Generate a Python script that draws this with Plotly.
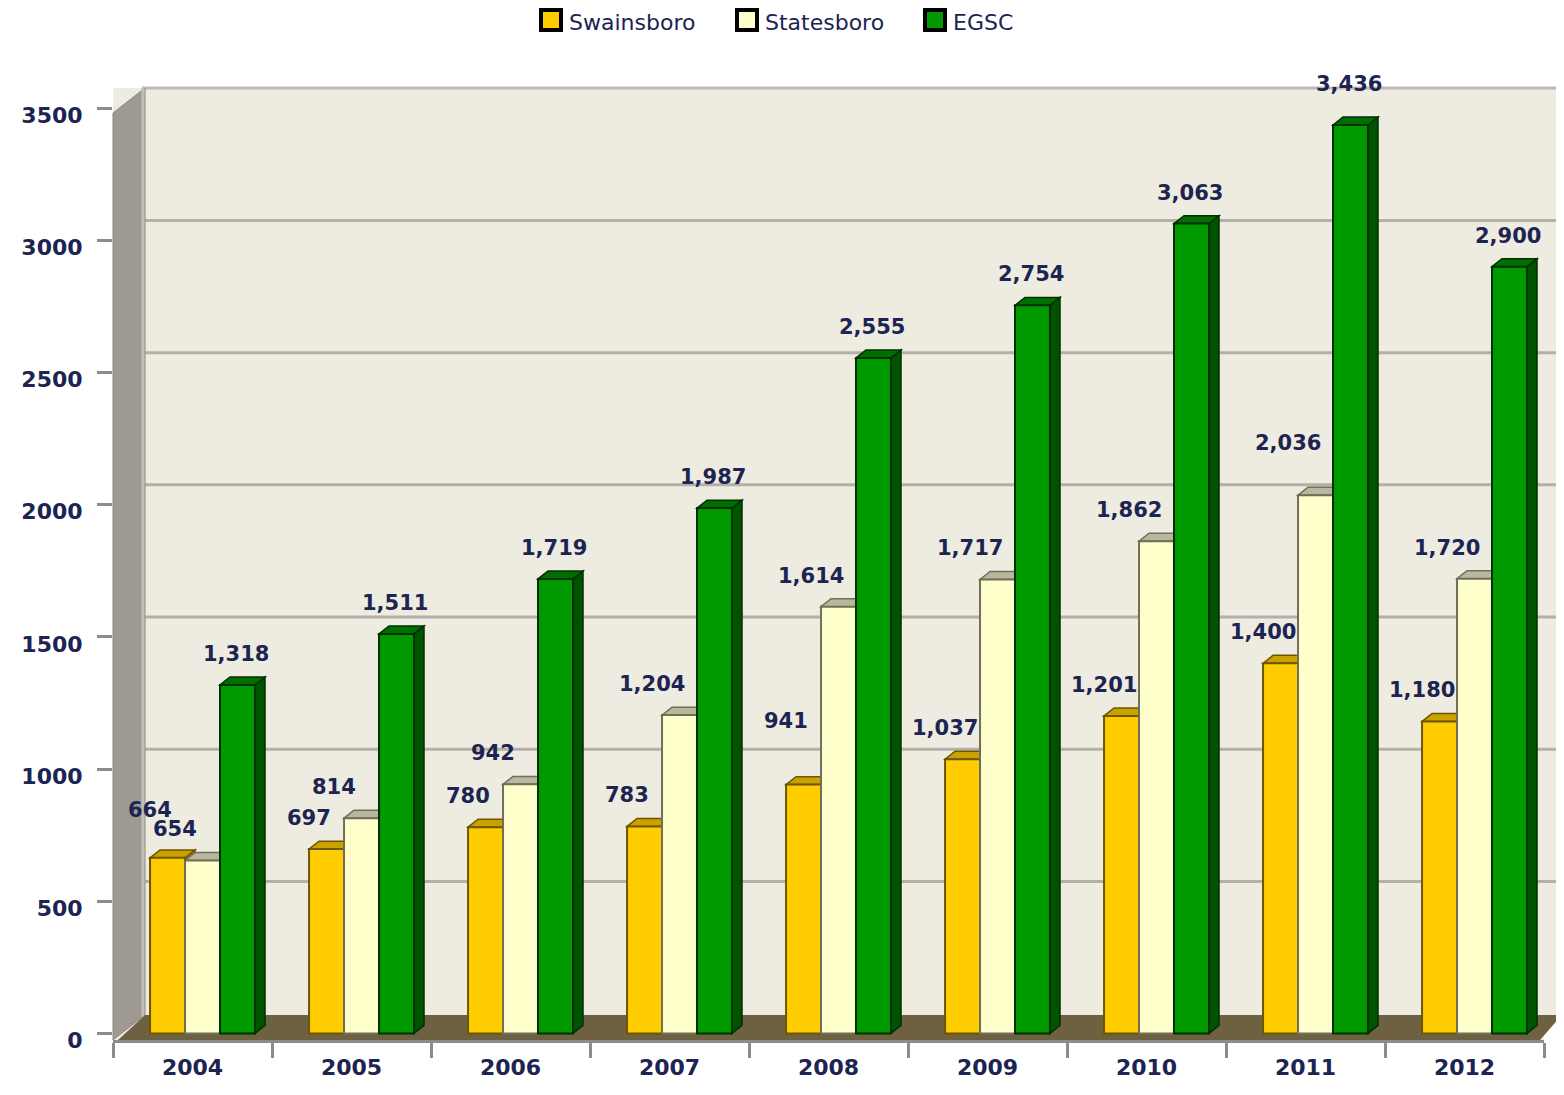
import plotly.graph_objects as go

years = ["2004", "2005", "2006", "2007", "2008", "2009", "2010", "2011", "2012"]
swainsboro = [664, 697, 780, 783, 941, 1037, 1201, 1400, 1180]
statesboro = [654, 814, 942, 1204, 1614, 1717, 1862, 2036, 1720]
egsc = [1318, 1511, 1719, 1987, 2555, 2754, 3063, 3436, 2900]
ytick_vals = [0, 500, 1000, 1500, 2000, 2500, 3000, 3500]
series_names = ["Swainsboro", "Statesboro", "EGSC"]

# ---- styling (not data) ----
PAGE_OFF = 8  # browser body margin
W, H = 1564 - PAGE_OFF, 1095 - PAGE_OFF
ML, MT = 113 - PAGE_OFF, 88 - PAGE_OFF
MR = W - (1544 - PAGE_OFF)
MB = H - (1040 - PAGE_OFF)
PW, PH = W - ML - MR, H - MT - MB
YR = [-25, 3576]
BAR_W = 0.22
BAR_OFF = [-0.267, -0.047, 0.173]
DX, DY = 0.063, 30  # 3D depth in axis units
styles = [
    dict(front="#FFCC00", edge="#6e5600", top="#C9A200", side="#A88600", lab_dx=-0.11),
    dict(front="#FFFFCC", edge="#6f6f5a", top="#B9B89C", side="#D6D5B5", lab_dx=-0.17),
    dict(front="#009900", edge="#003000", top="#006E00", side="#005400", lab_dx=-0.01),
]
# extra vertical nudges of crowded labels (pixels)
label_nudge = {(0, 4): 33, (1, 7): 21, (0, 0): 17, (2, 7): 10}
text_color = "#1c2452"
font_fam = "DejaVu Sans"


def px_x(px):
    return (px - PAGE_OFF - ML) / PW


def px_y(py):
    return (H - MB - (py - PAGE_OFF)) / PH


series_vals = [swainsboro, statesboro, egsc]
fig = go.Figure()
shapes = []
annotations = []

# background extension, top edge, gridlines
shapes.append(dict(type="rect", xref="paper", yref="paper", x0=1, x1=px_x(1564), y0=px_y(1015), y1=1,
                   fillcolor="#EEEBE1", line_width=0, layer="below"))
shapes.append(dict(type="line", xref="paper", yref="paper", x0=px_x(142), x1=px_x(1564), y0=1, y1=1,
                   line=dict(color="#BDBAB3", width=3), layer="below"))
for v in ytick_vals[1:-1]:
    shapes.append(dict(type="line", xref="paper", yref="y", x0=px_x(145), x1=px_x(1564), y0=v + 75, y1=v + 75,
                       line=dict(color="#B3B0A8", width=3), layer="below"))
# left side wall
shapes.append(dict(type="path", xref="paper", yref="paper",
                   path=f"M 0,0 L {px_x(145)},{px_y(1015)} L {px_x(145)},1 L 0,{px_y(113)} Z",
                   fillcolor="#9E9A91", line=dict(color="#8a867e", width=1), layer="below"))
shapes.append(dict(type="line", xref="paper", yref="paper", x0=px_x(143), x1=px_x(143), y0=px_y(1017), y1=1,
                   line=dict(color="#C2BFB8", width=3), layer="below"))
# floor
shapes.append(dict(type="path", xref="paper", yref="paper",
                   path=f"M {px_x(118)},0 L {px_x(1540)},0 L {px_x(1562)},{px_y(1015)} L {px_x(145)},{px_y(1015)} Z",
                   fillcolor="#6E6142", line_width=0, layer="below"))

for k, (name, vals, st) in enumerate(zip(series_names, series_vals, styles)):
    fig.add_trace(go.Bar(
        name=name, x=years, y=vals, width=BAR_W, offset=BAR_OFF[k],
        marker=dict(color=st["front"], line=dict(color=st["edge"], width=2)),
        showlegend=False, hoverinfo="x+y+name",
    ))
    for i, v in enumerate(vals):
        x0 = i + BAR_OFF[k]
        x1 = x0 + BAR_W
        # side face
        shapes.append(dict(type="path", xref="x", yref="y", layer="between",
                           path=f"M {x1},0 L {x1 + DX},{DY} L {x1 + DX},{v + DY} L {x1},{v} Z",
                           fillcolor=st["side"], line=dict(color=st["edge"], width=1.5)))
        # top face
        shapes.append(dict(type="path", xref="x", yref="y", layer="between",
                           path=f"M {x0},{v} L {x0 + DX},{v + DY} L {x1 + DX},{v + DY} L {x1},{v} Z",
                           fillcolor=st["top"], line=dict(color=st["edge"], width=1.5)))
        annotations.append(dict(xref="x", yref="y", x=x0 + BAR_W / 2 + st["lab_dx"], y=v,
                                yshift=31 + label_nudge.get((k, i), 0), text=f"{v:,}", showarrow=False,
                                xanchor="center", yanchor="middle",
                                font=dict(family=font_fam, size=21, color=text_color, weight="bold")))

# custom legend (square swatches with thick black border)
leg_x = [541, 737, 925]
for name, st, lx in zip(series_names, styles, leg_x):
    shapes.append(dict(type="rect", xref="paper", yref="paper",
                       x0=px_x(lx), x1=px_x(lx + 20), y0=px_y(30), y1=px_y(10),
                       fillcolor=st["front"], line=dict(color="black", width=4)))
    annotations.append(dict(xref="paper", yref="paper", x=px_x(lx + 27), y=px_y(22), text=name,
                            showarrow=False, xanchor="left", yanchor="middle", borderpad=0,
                            font=dict(family=font_fam, size=22, color=text_color)))

fig.update_layout(
    width=W, height=H,
    margin=dict(l=ML, r=MR, t=MT, b=MB),
    paper_bgcolor="white", plot_bgcolor="#EEEBE1",
    barmode="overlay", showlegend=False,
    shapes=shapes, annotations=annotations,
    font=dict(family=font_fam, color=text_color),
)
fig.update_xaxes(
    type="category", range=[-0.5, 8.5], showgrid=False, showline=True, linecolor="#8c8c8c", linewidth=3,
    ticks="outside", tickson="boundaries", ticklen=15, tickcolor="#8c8c8c", tickwidth=3,
    ticklabelstandoff=6, automargin=False,
    tickfont=dict(family=font_fam, size=22, color=text_color, weight="bold"),
)
fig.update_yaxes(
    range=YR, tickvals=ytick_vals, showgrid=False, zeroline=False,
    ticks="outside", ticklen=15, tickcolor="#8c8c8c", tickwidth=3,
    ticklabelstandoff=10, ticklabelshift=7, automargin=False,
    tickfont=dict(family=font_fam, size=22, color=text_color, weight="bold"),
)

fig.write_html("out.html")
